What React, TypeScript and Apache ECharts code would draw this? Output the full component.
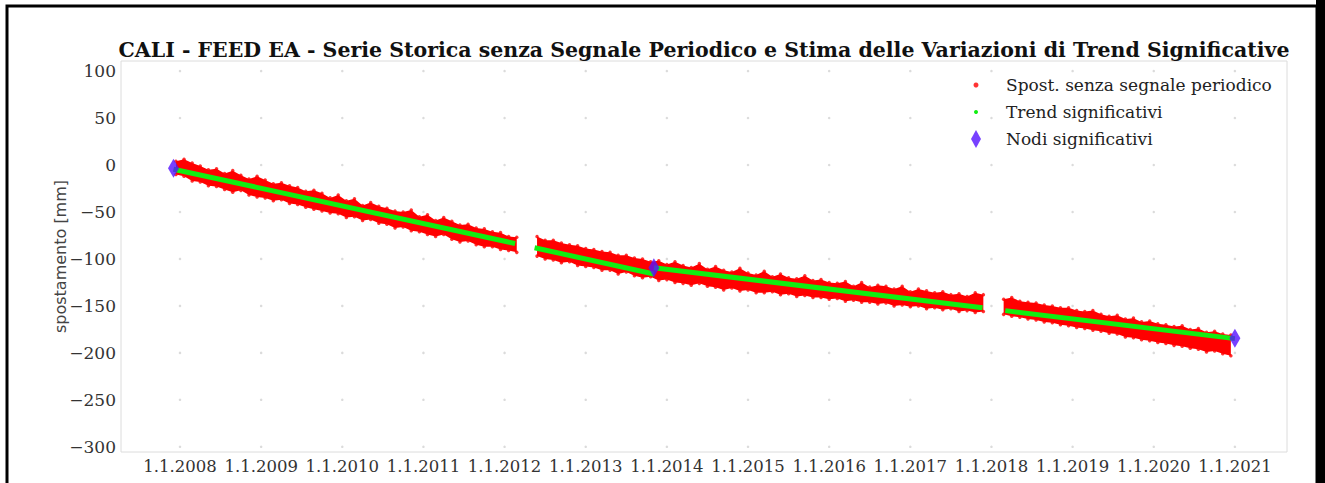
import React, { useEffect, useRef } from 'react';
import * as echarts from 'echarts';

const titleText =
  'CALI - FEED EA - Serie Storica senza Segnale Periodico e Stima delle Variazioni di Trend Significative';
const yAxisName = 'spostamento [mm]';
const seriesNames = ['Spost. senza segnale periodico', 'Trend significativi', 'Nodi significativi'];

const xTickYears = [2008, 2009, 2010, 2011, 2012, 2013, 2014, 2015, 2016, 2017, 2018, 2019, 2020, 2021];
const yTickValues = [-300, -250, -200, -150, -100, -50, 0, 50, 100];

// red band: upper / lower envelope read every 0.1 year
const sampleStep = 0.1;
const seg1Start = 2007.95;
const seg1Upper = [4, 6, 2, -1, -5, -4, -9, -6, -11, -15, -12, -16, -20, -19, -22, -24, -28, -27, -30, -35, -32, -38, -36, -43, -40, -44, -46, -49, -50, -48, -55, -53, -59, -56, -60, -64, -63, -67, -68, -71, -72, -76, -77];
const seg1Lower = [-10, -12, -17, -18, -22, -23, -26, -29, -27, -32, -34, -35, -38, -37, -41, -42, -45, -47, -49, -51, -52, -56, -55, -59, -58, -62, -63, -67, -66, -70, -71, -74, -76, -74, -79, -82, -81, -85, -87, -87, -90, -91, -93];
const seg2Start = 2012.4;
const seg2Upper = [-76, -80, -80, -83, -85, -86, -89, -90, -92, -93, -96, -96, -99, -100, -103, -102, -106, -103, -107, -109, -105, -111, -108, -112, -114, -110, -115, -117, -113, -119, -116, -120, -121, -118, -123, -122, -125, -126, -124, -129, -125, -130, -128, -129, -132, -129, -135, -132, -134, -136, -135, -138, -137, -140, -136, -138];
const seg2Lower = [-97, -100, -101, -104, -103, -107, -108, -109, -112, -112, -116, -114, -118, -120, -119, -123, -122, -125, -126, -128, -126, -129, -130, -133, -131, -134, -133, -136, -136, -135, -138, -137, -140, -139, -141, -141, -143, -142, -145, -144, -146, -146, -148, -147, -150, -149, -151, -150, -153, -152, -154, -153, -156, -155, -157, -156];
const seg3Start = 2018.15;
const seg3Upper = [-143, -141, -145, -146, -147, -149, -150, -152, -152, -155, -156, -155, -159, -161, -160, -164, -163, -167, -166, -169, -170, -172, -171, -175, -174, -178, -177, -180, -181];
const seg3Lower = [-159, -161, -162, -164, -165, -167, -168, -170, -171, -173, -174, -176, -177, -179, -180, -183, -184, -186, -187, -189, -190, -192, -193, -195, -196, -199, -198, -201, -203];

// significant trend pieces (start/end of each visible piece)
const trendTimes = [
  [2007.92, 2012.13],
  [2012.37, 2013.84],
  [2013.84, 2017.89],
  [2018.17, 2021.0],
];
const trendValues = [
  [-4.5, -83.6],
  [-88.1, -116.0],
  [-109.3, -152.0],
  [-155.0, -184.8],
];

// significant nodes
const nodeTimes = [2007.92, 2013.84, 2021.0];
const nodeValues = [-3.5, -109.5, -184.5];

const segments = [
  { start: seg1Start, upper: seg1Upper, lower: seg1Lower },
  { start: seg2Start, upper: seg2Upper, lower: seg2Lower },
  { start: seg3Start, upper: seg3Upper, lower: seg3Lower },
];
const timeAt = (start: number, i: number) => Math.round((start + i * sampleStep) * 1000) / 1000;

const fmtY = (v: number) => (v < 0 ? '\u2212' + Math.abs(v) : String(v));

const serif = "'DejaVu Serif', serif";

export default function App() {
  const ref = useRef<HTMLDivElement>(null);

  useEffect(() => {
    if (!ref.current) return;
    const chart = echarts.init(ref.current, null, { renderer: 'svg' });

    const gridDots: number[][] = [];
    xTickYears.forEach((x) => yTickValues.forEach((y) => gridDots.push([x, y])));

    const edgePoints: number[][] = [];
    segments.forEach((s) => {
      s.upper.forEach((v, i) => edgePoints.push([timeAt(s.start, i), v]));
      s.lower.forEach((v, i) => edgePoints.push([timeAt(s.start, i), v]));
    });

    const trendSeries = trendTimes.map((ts, k) => ({
      name: seriesNames[1],
      type: 'line',
      data: ts.map((t, j) => [t, trendValues[k][j]]),
      showSymbol: false,
      symbol: 'none',
      clip: false,
      silent: true,
      z: 4,
      lineStyle: { color: '#11ee11', width: 5, cap: 'butt' },
      itemStyle: { color: '#11ee11' },
    }));

    const legendText = { fontFamily: serif, fontSize: 17, color: '#222', lineHeight: 20 };

    const option: any = {
      animation: false,
      backgroundColor: '#ffffff',
      grid: {
        left: 121,
        right: 38,
        top: 61,
        bottom: 31,
        show: true,
        borderColor: '#dcdcdc',
        borderWidth: 1,
        backgroundColor: 'transparent',
      },
      xAxis: {
        type: 'value',
        min: 2007.273,
        max: 2021.642,
        axisLine: { show: false },
        axisTick: { show: false },
        splitLine: { show: false },
        axisLabel: {
          customValues: xTickYears,
          formatter: (v: number) => `1.1.${Math.round(v)}`,
          fontFamily: serif,
          fontSize: 16.5,
          color: '#333',
          margin: 6,
        },
      },
      yAxis: {
        type: 'value',
        min: -305.5,
        max: 110.7,
        axisLine: { show: false },
        axisTick: { show: false },
        splitLine: { show: false },
        axisLabel: {
          customValues: yTickValues,
          formatter: (v: number) => fmtY(Math.round(v)),
          fontFamily: serif,
          fontSize: 17,
          color: '#333',
          margin: 5,
        },
        name: yAxisName,
        nameLocation: 'middle',
        nameGap: 53,
        nameMoveOverlap: false,
        nameTextStyle: { fontFamily: "'DejaVu Sans', sans-serif", fontSize: 16, color: '#444' },
      },
      legend: [
        {
          data: [{ name: seriesNames[0], icon: 'circle' }],
          left: 973.5,
          top: 75,
          padding: 0,
          itemWidth: 50,
          itemHeight: 5,
          selectedMode: false,
          textStyle: legendText,
        },
        {
          data: [{ name: seriesNames[1], icon: 'circle' }],
          left: 974,
          top: 102,
          padding: 0,
          itemWidth: 50,
          itemHeight: 4,
          selectedMode: false,
          textStyle: legendText,
        },
        {
          data: [{ name: seriesNames[2], icon: 'path://M5 0L10 9L5 18L0 9Z' }],
          left: 971,
          top: 129,
          padding: 0,
          itemWidth: 50,
          itemHeight: 18,
          selectedMode: false,
          textStyle: legendText,
        },
      ],
      graphic: [
        {
          type: 'text',
          x: 704,
          y: 50,
          silent: true,
          style: {
            text: titleText,
            fill: '#111',
            font: "bold 20.5px 'DejaVu Serif'",
            align: 'center',
            verticalAlign: 'middle',
          },
        },
        {
          type: 'rect',
          silent: true,
          shape: { x: 7, y: 6, width: 1310, height: 700 },
          style: { fill: 'none', stroke: '#000', lineWidth: 3 },
        },
        {
          type: 'rect',
          silent: true,
          shape: { x: 1316, y: 0, width: 9, height: 483 },
          style: { fill: '#000' },
        },
      ],
      series: [
        {
          name: 'grid',
          type: 'scatter',
          data: gridDots,
          symbolSize: 2.5,
          silent: true,
          clip: false,
          z: 1,
          itemStyle: { color: '#d2d2d2' },
        },
        {
          name: 'band',
          type: 'custom',
          silent: true,
          clip: false,
          z: 2,
          data: segments.map((s) => [timeAt(s.start, 0), s.upper[0]]),
          renderItem: (params: any, api: any) => {
            const s = segments[params.dataIndex];
            const pts: number[][] = [];
            s.upper.forEach((v, i) => pts.push(api.coord([timeAt(s.start, i), v])));
            for (let i = s.lower.length - 1; i >= 0; i--) {
              pts.push(api.coord([timeAt(s.start, i), s.lower[i]]));
            }
            return { type: 'polygon', shape: { points: pts }, style: { fill: '#ff0000' } };
          },
        },
        {
          name: seriesNames[0],
          type: 'scatter',
          data: edgePoints,
          symbolSize: 3.5,
          silent: true,
          clip: false,
          z: 3,
          itemStyle: { color: '#ff0000' },
        },
        ...trendSeries,
        {
          name: seriesNames[2],
          type: 'scatter',
          data: nodeTimes.map((t, i) => [t, nodeValues[i]]),
          symbol: 'diamond',
          symbolSize: [11, 19],
          silent: true,
          clip: false,
          z: 5,
          itemStyle: { color: '#5511ff' },
        },
      ],
    };

    chart.setOption(option);
    return () => chart.dispose();
  }, []);

  return (
    <div
      ref={ref}
      style={{ position: 'absolute', left: 0, top: 0, width: 1325, height: 483, background: '#fff' }}
    />
  );
}
